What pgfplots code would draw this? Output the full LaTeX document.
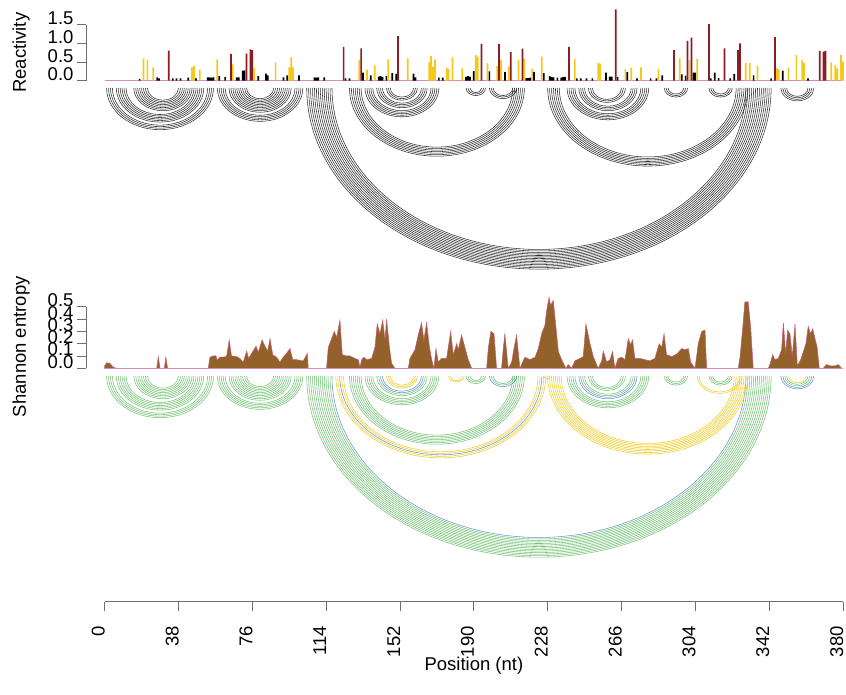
\documentclass[border=0pt]{standalone}
\usepackage{fontspec}
\setmainfont{Liberation Sans}
\usepackage{pgfplots}
\pgfplotsset{compat=1.18}
\definecolor{barred}{RGB}{140,28,35}
\definecolor{bargold}{RGB}{245,200,30}
\definecolor{basepink}{RGB}{215,140,190}
\definecolor{entfill}{RGB}{147,98,42}
\definecolor{entline}{RGB}{200,90,120}
\definecolor{axgray}{RGB}{110,110,110}
\definecolor{arcgreen}{RGB}{120,195,120}
\definecolor{arcblue}{RGB}{100,150,210}
\definecolor{arcyellow}{RGB}{240,205,45}
\definecolor{arcblack}{RGB}{50,50,50}
\newcommand\bigfont{\fontsize{18.5}{21}\selectfont}

% helix: i, j, number of pairs, colour
\newcommand\helix[4]{%
  \foreach \k in {1,...,#3}{%
    \pgfmathsetmacro\ai{#1+\k-1}%
    \pgfmathsetmacro\aj{#2-\k+1}%
    \pgfmathsetmacro\ac{(\ai+\aj)/2}%
    \pgfmathsetmacro\ar{(\aj-\ai)/2}%
    \pgfmathsetmacro\ak{0.5523*\ar}%
    \pgfmathsetmacro\acl{\ac-\ak}%
    \pgfmathsetmacro\acr{\ac+\ak}%
    \pgfmathsetmacro\ah{-\ar}%
    \pgfmathsetmacro\akh{-\ak}%
    \edef\tmp{\noexpand\draw[#4,line width=0.55pt] (axis cs:\ai,0) .. controls (axis cs:\ai,\akh) and (axis cs:\acl,\ah) .. (axis cs:\ac,\ah) .. controls (axis cs:\acr,\ah) and (axis cs:\aj,\akh) .. (axis cs:\aj,0);}%
    \tmp
  }%
}

% MFE structure helices: i/j/pairs
\def\topHelices{1/56/4, 6/51/6, 15/45/8, 58/102/5, 64/96/10, 104/343/14, 126/216/7, 134/172/5, 140/166/4, 145/161/3, 186/196/3, 198/212/3, 228/331/7, 238/280/5, 244/274/4, 249/268/3, 288/300/3, 311/323/3, 348/365/4}
% base-pair probability helices: i/j/pairs/colour
\def\botHelices{1/56/4/arcgreen, 6/51/6/arcgreen, 15/45/8/arcgreen, 58/102/5/arcgreen, 64/96/10/arcgreen, 104/343/13/arcgreen, 117/330/1/arcblue, 119/227/2/arcyellow, 121/225/1/arcblue, 122/224/2/arcyellow, 126/216/7/arcgreen, 134/172/5/arcgreen, 140/166/2/arcgreen, 142/164/2/arcblue, 145/161/3/arcyellow, 177/185/2/arcyellow, 186/196/3/arcgreen, 198/212/1/arcblue, 199/211/2/arcgreen, 226/230/1/arcyellow, 228/331/8/arcyellow, 238/280/5/arcgreen, 244/274/2/arcblue, 246/272/2/arcgreen, 249/268/3/arcgreen, 288/300/3/arcgreen, 305/328/2/arcyellow, 311/323/3/arcgreen, 348/365/2/arcblue, 350/363/2/arcgreen, 352/361/1/arcyellow}

\pgfplotsset{
  every axis/.append style={
    /pgf/number format/assume math mode=true,
    tick label style={font=\bigfont},
    axis line style={axgray,line width=0.8pt},
    every tick/.style={axgray,line width=0.8pt},
    tick align=outside,
    major tick length=9pt,
  },
}

\begin{document}
\begin{tikzpicture}[x=1pt,y=1pt]
\useasboundingbox (0pt,0pt) rectangle (846pt,695pt);

% ---------------- Reactivity bars ----------------
\begin{axis}[
  at={(86pt,614.3pt)}, anchor=south west,
  x=1.943pt, y=37.2pt,
  xmin=-9.6, xmax=380, ymin=0, ymax=1.5,
  clip=false,
  axis x line=none, axis y line*=left,
  ytick={0,0.5,1,1.5},
  yticklabel style={anchor=base east,/pgf/number format/.cd,fixed,fixed zerofill,precision=1},
  ylabel={Reactivity},
  every axis y label/.style={at={(axis description cs:-0.0859,0.5)},rotate=90,anchor=center,font=\bigfont},
]
\addplot[basepink,line width=0.6pt] coordinates {(0,0) (380,0)};
\addplot[ybar,bar width=1.7pt,bar shift=0pt,fill=black,draw=none] coordinates {
(18,0.05) (27,0.09) (28,0.06) (35,0.06) (37,0.06) (39,0.06) (43,0.08) (47,0.06)
(53,0.09) (54,0.09) (55,0.08) (56,0.09) (59,0.12) (62,0.1) (68,0.09) (69,0.09)
(71,0.27) (72,0.28) (79,0.12) (83,0.19) (84,0.14) (92,0.09) (94,0.14) (100,0.14)
(108,0.09) (109,0.08) (110,0.09) (113,0.09) (124,0.06) (126,0.06) (133,0.22) (137,0.14)
(141,0.11) (142,0.12) (143,0.1) (145,0.12) (148,0.2) (150,0.18) (159,0.19) (160,0.09)
(172,0.08) (174,0.08) (186,0.1) (187,0.12) (188,0.11) (190,0.26) (198,0.25) (206,0.23)
(217,0.07) (218,0.07) (219,0.08) (221,0.24) (226,0.2) (229,0.12) (230,0.1) (231,0.09)
(233,0.08) (235,0.08) (236,0.1) (237,0.1) (243,0.06) (245,0.06) (248,0.06) (251,0.06)
(258,0.22) (260,0.11) (261,0.11) (264,0.1) (269,0.23) (274,0.06) (281,0.06) (284,0.06)
(287,0.14) (297,0.17) (299,0.13) (303,0.22) (304,0.22) (312,0.06) (314,0.22) (316,0.07)
(322,0.06) (324,0.18) (334,0.14) (343,0.06) (349,0.27) (362,0.06)
};
\addplot[ybar,bar width=1.7pt,bar shift=0pt,fill=bargold,draw=none] coordinates {
(20,0.6) (22,0.56) (25,0.36) (45,0.36) (46,0.4) (49,0.3) (58,0.57) (66,0.44)
(77,0.35) (88,0.49) (95,0.36) (96,0.63) (97,0.36) (131,0.56) (135,0.3) (139,0.41)
(146,0.57) (156,0.6) (167,0.49) (168,0.66) (169,0.38) (170,0.57) (176,0.36) (177,0.32)
(179,0.63) (184,0.33) (191,0.69) (192,0.65) (197,0.47) (202,0.39) (204,0.56) (208,0.38)
(213,0.56) (216,0.59) (220,0.32) (225,0.65) (242,0.58) (254,0.48) (255,0.46) (268,0.31)
(271,0.35) (276,0.36) (285,0.31) (296,0.6) (301,0.56) (305,0.58) (330,0.48) (332,0.48)
(336,0.39) (346,0.33) (347,0.31) (352,0.35) (356,0.69) (359,0.56) (360,0.48) (374,0.49)
(376,0.41) (377,0.33) (379,0.69) (380,0.51)
};
\addplot[ybar,bar width=1.7pt,bar shift=0pt,fill=barred,draw=none] coordinates {
(33,0.81) (65,0.72) (73,0.73) (75,0.84) (76,0.82) (123,0.91) (132,0.87) (151,1.2)
(194,0.99) (203,0.99) (209,0.77) (215,0.86) (239,0.91) (263,1.92) (293,0.82) (300,1.07)
(302,1.16) (311,1.52) (319,0.87) (326,0.82) (327,1.0) (345,1.17) (368,0.8) (370,0.78) (371,0.8)
};
\end{axis}

% ---------------- MFE arcs ----------------
\begin{axis}[
  at={(86pt,607pt)}, anchor=north west,
  x=1.943pt, y=1.516pt,
  xmin=-9.6, xmax=380, ymin=-130, ymax=0,
  hide axis, clip=false,
]
\foreach \hi/\hj/\hn in \topHelices {\helix{\hi}{\hj}{\hn}{arcblack}}
\end{axis}

% ---------------- Shannon entropy ----------------
\begin{axis}[
  at={(86pt,326.7pt)}, anchor=south west,
  x=1.943pt, y=123.2pt,
  xmin=-9.6, xmax=380, ymin=0, ymax=0.5,
  clip=false,
  axis x line=none, axis y line*=left,
  ytick={0,0.1,0.2,0.3,0.4,0.5},
  yticklabel style={anchor=base east,/pgf/number format/.cd,fixed,fixed zerofill,precision=1},
  ylabel={Shannon entropy},
  every axis y label/.style={at={(axis description cs:-0.0859,0.35)},rotate=90,anchor=center,font=\bigfont},
]
\addplot[fill=entfill,draw=entline,line width=0.5pt] coordinates {
(0,0.02) (1,0.045) (2.7,0.04) (4.4,0.01) (6,0) (26.8,0) (27.6,0.095) (28.5,0) (30.7,0) (31.5,0.09) (32.4,0)
(53.3,0) (54.2,0.09) (55.9,0.1) (57.3,0.1) (57.9,0.065) (59.3,0.09) (61.4,0.09) (62.8,0.1) (64.1,0.23)
(65.3,0.1) (67.9,0.095) (69.6,0.08) (71.3,0.05) (73.1,0.14) (74.1,0.08) (75.6,0.12) (76.8,0.15) (77.9,0.18)
(79.1,0.13) (81,0.23) (82.5,0.18) (83.9,0.14) (85.1,0.24) (86.5,0.11) (88.5,0.09) (90.2,0.05) (91.9,0.09)
(94,0.13) (95.4,0.16) (96.8,0.07) (98.8,0.07) (102.2,0.06) (104.3,0.12) (104.8,0) (114.2,0) (115.1,0.17)
(116.8,0.24) (118.2,0.3) (119.4,0.25) (121.1,0.39) (122.3,0.11) (124.5,0.1) (126.2,0.1) (128.8,0.08)
(130.5,0.07) (131.4,0.01) (132.3,0.07) (133.5,0.09) (134.8,0.07) (137.4,0.08) (139.1,0.17) (140.3,0.36)
(141.7,0.28) (143.1,0.39) (144.3,0.23) (145.1,0.4) (146.5,0.18) (147.7,0.04) (149.4,0) (156.3,0)
(157.1,0.08) (159.7,0.15) (161.4,0.27) (163.1,0.37) (164.3,0.23) (165.7,0.37) (167.1,0.18) (168.3,0.07)
(169.5,0) (170.5,0.16) (171.7,0.05) (173.4,0.08) (176,0.08) (178.1,0.3) (179.4,0.11) (181.2,0.2)
(182,0.15) (183.7,0.27) (185.4,0.17) (187.1,0.07) (188.9,0) (196.6,0) (197.5,0.17) (198.8,0.3)
(200.4,0.28) (201.7,0) (204.3,0) (205.2,0.17) (206,0.28) (207.7,0) (209.5,0.05) (210.3,0.13) (212,0.27)
(213.7,0) (215.4,0.06) (216.3,0.09) (218.9,0.07) (221.5,0.09) (223.2,0.16) (224.9,0.28) (226.6,0.35)
(227.5,0.47) (228.7,0.575) (229.5,0.51) (230.9,0.55) (232.1,0.36) (233.5,0.135) (235.2,0.07) (237.4,0)
(238.6,0.03) (240.3,0) (242,0.06) (244.6,0.08) (246.3,0.095) (247.7,0.36) (248.9,0.27) (249.8,0.2)
(251.5,0.095) (254,0) (255.8,0.06) (256.6,0.14) (258.4,0.05) (260.1,0.07) (261.4,0.135) (262.6,0)
(264.3,0.08) (266.1,0.09) (267.8,0.07) (269.5,0.24) (270.7,0.19) (271.7,0.23) (272.9,0.08) (275.5,0.08)
(278.1,0.07) (280.6,0.06) (283.2,0.08) (285.4,0.2) (286.7,0.17) (287.9,0.28) (289.2,0.11) (291.8,0.095)
(294.4,0.115) (297,0.16) (298.7,0.15) (300.4,0.16) (301.6,0.05) (303.8,0) (304.7,0.1) (305.5,0.2)
(307.3,0.3) (309,0.31) (309.8,0) (326.1,0) (327,0.09) (328.3,0.31) (329.5,0.54) (331.2,0.54) (332.5,0.33)
(333.8,0) (341.5,0) (342.4,0.03) (343.8,0.11) (345,0.07) (346.7,0.08) (348.4,0.15) (349.3,0.37)
(350.5,0.12) (351.5,0.31) (352.7,0.28) (353.9,0.095) (355.3,0.36) (356.5,0.02) (358.2,0.07) (359.6,0.135)
(360.9,0.2) (362.1,0.34) (363.3,0.28) (364.4,0.32) (365.6,0.24) (366.7,0.17) (367.8,0) (369.8,0)
(371.6,0.03) (373.3,0.02) (375.9,0.02) (377.6,0.03) (379.3,0) (380,0)
} \closedcycle;
\addplot[basepink,line width=0.6pt] coordinates {(0,0) (380,0)};
\end{axis}

% ---------------- probability arcs ----------------
\begin{axis}[
  at={(86pt,319pt)}, anchor=north west,
  x=1.943pt, y=1.516pt,
  xmin=-9.6, xmax=380, ymin=-130, ymax=0,
  hide axis, clip=false,
]
\foreach \hi/\hj/\hn/\hc in \botHelices {\helix{\hi}{\hj}{\hn}{\hc}}
\end{axis}

% ---------------- Position axis ----------------
\begin{axis}[
  at={(104.7pt,93.3pt)}, anchor=south west,
  x=1.943pt, y=1pt,
  xmin=0, xmax=380, ymin=0, ymax=1,
  axis x line*=bottom, axis y line=none,
  xtick={0,38,...,380},
  xticklabel style={rotate=90,anchor=base east},
  xticklabel shift=12pt,
  xlabel={Position (nt)},
  every axis x label/.style={at={(axis description cs:0.5,0)},yshift=-64pt,anchor=center,font=\bigfont},
]
\end{axis}
\end{tikzpicture}
\end{document}
